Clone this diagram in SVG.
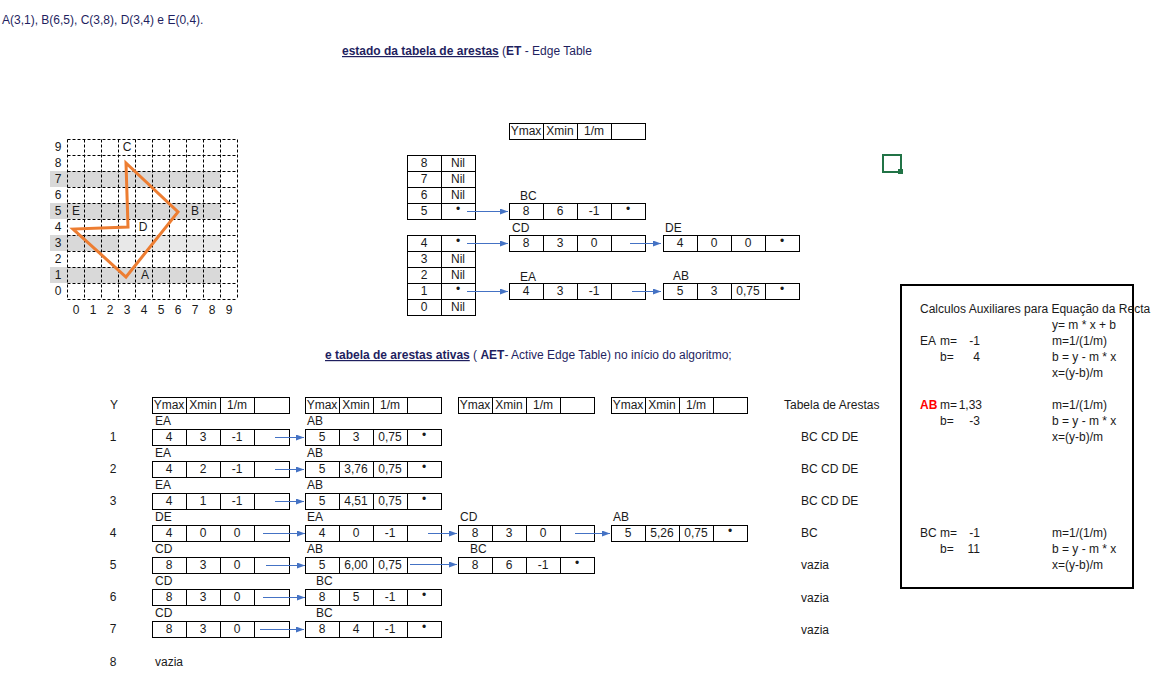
<svg xmlns="http://www.w3.org/2000/svg" width="1157" height="691" viewBox="0 0 1157 691">
<style>
.t{font-family:"Liberation Sans",Arial,sans-serif;font-size:12px;fill:#1a1a1a}
.c{text-anchor:middle}
.r{text-anchor:end}
.hdr{font-family:"Liberation Sans",Arial,sans-serif;font-size:12px;fill:#1f1f5f}
.b{font-weight:bold}
.u{text-decoration:underline}
.cell{fill:#fff;stroke:#000;stroke-width:1}
.div{stroke:#000;stroke-width:1;fill:none}
.conn{stroke:#4472C4;stroke-width:1;fill:none;marker-end:url(#ah)}
.grid{stroke:#000;stroke-width:1;stroke-dasharray:3,2;fill:none}
</style>
<defs>
<marker id="ah" markerWidth="8" markerHeight="6" refX="8" refY="3" orient="auto" markerUnits="userSpaceOnUse"><path d="M0,0 L8,3 L0,6 z" fill="#4472C4"/></marker>
</defs>
<rect width="1157" height="691" fill="#fff"/>

<!-- headings -->
<g id="headings">
<text class="hdr" x="2" y="24">A(3,1), B(6,5), C(3,8), D(3,4) e E(0,4).</text>
<text class="hdr" x="342" y="55"><tspan class="b u">estado da tabela de arestas</tspan> (<tspan class="b">ET</tspan> - Edge Table</text>
<text class="hdr" x="325" y="359"><tspan class="b u">e tabela de arestas ativas</tspan> ( <tspan class="b">AET</tspan>- Active Edge Table) no início do algoritmo;</text>
</g>

<!-- grid with polygon -->
<g id="grid">
<rect x="50" y="171" width="170" height="16" fill="#d9d9d9"/>
<rect x="50" y="203" width="170" height="16" fill="#d9d9d9"/>
<rect x="50" y="235" width="68" height="16" fill="#d9d9d9"/>
<rect x="118" y="235" width="102" height="16" fill="#e8e8e8"/>
<rect x="50" y="267" width="170" height="16" fill="#d9d9d9"/>
<path class="grid" d="M67.5,139.5V299.5M84.5,139.5V299.5M101.5,139.5V299.5M118.5,139.5V299.5M135.5,139.5V299.5M152.5,139.5V299.5M169.5,139.5V299.5M186.5,139.5V299.5M203.5,139.5V299.5M220.5,139.5V299.5M237.5,139.5V299.5M67.5,139.5H237.5M67.5,155.5H237.5M67.5,171.5H237.5M67.5,187.5H237.5M67.5,203.5H237.5M67.5,219.5H237.5M67.5,235.5H237.5M67.5,251.5H237.5M67.5,267.5H237.5M67.5,283.5H237.5M67.5,299.5H237.5"/>
<g class="t c">
<text x="58" y="151">9</text><text x="58" y="167">8</text><text x="58" y="183">7</text><text x="58" y="199">6</text><text x="58" y="215">5</text>
<text x="58" y="231">4</text><text x="58" y="247">3</text><text x="58" y="263">2</text><text x="58" y="279">1</text><text x="58" y="295">0</text>
<text x="76" y="314">0</text><text x="93" y="314">1</text><text x="110" y="314">2</text><text x="127" y="314">3</text><text x="144" y="314">4</text>
<text x="161" y="314">5</text><text x="178" y="314">6</text><text x="195" y="314">7</text><text x="212" y="314">8</text><text x="229" y="314">9</text>
</g>
<polygon points="126,277 178,212 126,163 128,227 73,229" fill="none" stroke="#ED7D31" stroke-width="3" stroke-linejoin="miter"/>
<g class="t c">
<text x="127" y="151">C</text><text x="195" y="215">B</text><text x="143" y="231">D</text><text x="76" y="215">E</text><text x="145" y="279">A</text>
</g>
</g>

<!-- ET header -->
<g id="et-header">
<rect class="cell" x="509.5" y="123.5" width="136" height="16"/>
<path class="div" d="M543.5,123.5v16M577.5,123.5v16M611.5,123.5v16"/>
<g class="t c"><text x="526" y="135">Ymax</text><text x="560" y="135">Xmin</text><text x="594" y="135">1/m</text></g>
</g>

<!-- ET index upper -->
<g id="et-index-upper">
<rect class="cell" x="407.5" y="155.5" width="68" height="64"/>
<path class="div" d="M441.5,155.5v64M407.5,171.5h68M407.5,187.5h68M407.5,203.5h68"/>
<g class="t c">
<text x="424" y="167">8</text><text x="458" y="167">Nil</text>
<text x="424" y="183">7</text><text x="458" y="183">Nil</text>
<text x="424" y="199">6</text><text x="458" y="199">Nil</text>
<text x="424" y="215">5</text><text x="458" y="213">•</text>
</g>
</g>

<!-- ET index lower -->
<g id="et-index-lower">
<rect class="cell" x="407.5" y="235.5" width="68" height="80"/>
<path class="div" d="M441.5,235.5v80M407.5,251.5h68M407.5,267.5h68M407.5,283.5h68M407.5,299.5h68"/>
<g class="t c">
<text x="424" y="247">4</text><text x="458" y="245">•</text>
<text x="424" y="263">3</text><text x="458" y="263">Nil</text>
<text x="424" y="279">2</text><text x="458" y="279">Nil</text>
<text x="424" y="295">1</text><text x="458" y="293">•</text>
<text x="424" y="311">0</text><text x="458" y="311">Nil</text>
</g>
</g>

<!-- ET records -->
<g id="et-bc">
<text class="t" x="520" y="200">BC</text>
<rect class="cell" x="509.5" y="203.5" width="136" height="16"/>
<path class="div" d="M543.5,203.5v16M577.5,203.5v16M611.5,203.5v16"/>
<g class="t c"><text x="526" y="215">8</text><text x="560" y="215">6</text><text x="594" y="215">-1</text><text x="628" y="213">•</text></g>
</g>
<g id="et-cd">
<text class="t" x="512" y="232">CD</text>
<rect class="cell" x="509.5" y="235.5" width="136" height="16"/>
<path class="div" d="M543.5,235.5v16M577.5,235.5v16M611.5,235.5v16"/>
<g class="t c"><text x="526" y="247">8</text><text x="560" y="247">3</text><text x="594" y="247">0</text></g>
</g>
<g id="et-ea">
<text class="t" x="520" y="281">EA</text>
<rect class="cell" x="509.5" y="283.5" width="136" height="16"/>
<path class="div" d="M543.5,283.5v16M577.5,283.5v16M611.5,283.5v16"/>
<g class="t c"><text x="526" y="295">4</text><text x="560" y="295">3</text><text x="594" y="295">-1</text></g>
</g>
<g id="et-de">
<text class="t" x="665" y="232">DE</text>
<rect class="cell" x="663.5" y="235.5" width="136" height="16"/>
<path class="div" d="M697.5,235.5v16M731.5,235.5v16M765.5,235.5v16"/>
<g class="t c"><text x="680" y="247">4</text><text x="714" y="247">0</text><text x="748" y="247">0</text><text x="782" y="245">•</text></g>
</g>
<g id="et-ab">
<text class="t" x="673" y="280">AB</text>
<rect class="cell" x="663.5" y="283.5" width="136" height="16"/>
<path class="div" d="M697.5,283.5v16M731.5,283.5v16M765.5,283.5v16"/>
<g class="t c"><text x="680" y="295">5</text><text x="714" y="295">3</text><text x="748" y="295">0,75</text><text x="782" y="293">•</text></g>
</g>

<!-- cell cursor -->
<g id="cursor">
<rect x="883" y="155" width="18" height="17" fill="none" stroke="#217346" stroke-width="2"/>
<rect x="898" y="169" width="5" height="5" fill="#217346"/>
</g>

<!-- AET headers -->
<g id="aet-header">
<text class="t c" x="114" y="409">Y</text>
<rect class="cell" x="152.5" y="397.5" width="137" height="16"/>
<path class="div" d="M186.5,397.5v16M220.5,397.5v16M254.5,397.5v16"/>
<rect class="cell" x="305.5" y="397.5" width="136" height="16"/>
<path class="div" d="M339.5,397.5v16M373.5,397.5v16M407.5,397.5v16"/>
<rect class="cell" x="458.5" y="397.5" width="136" height="16"/>
<path class="div" d="M492.5,397.5v16M526.5,397.5v16M560.5,397.5v16"/>
<rect class="cell" x="611.5" y="397.5" width="136" height="16"/>
<path class="div" d="M645.5,397.5v16M679.5,397.5v16M713.5,397.5v16"/>
<g class="t c">
<text x="169" y="409">Ymax</text><text x="203" y="409">Xmin</text><text x="237" y="409">1/m</text>
<text x="322" y="409">Ymax</text><text x="356" y="409">Xmin</text><text x="390" y="409">1/m</text>
<text x="475" y="409">Ymax</text><text x="509" y="409">Xmin</text><text x="543" y="409">1/m</text>
<text x="628" y="409">Ymax</text><text x="662" y="409">Xmin</text><text x="696" y="409">1/m</text>
</g>
<text class="t" x="784" y="409">Tabela de Arestas</text>
</g>

<!-- AET row 1 -->
<g id="aet-row1">
<text class="t c" x="113" y="441">1</text>
<text class="t" x="155" y="425">EA</text><text class="t" x="307" y="425">AB</text>
<rect class="cell" x="152.5" y="429.5" width="137" height="16"/>
<path class="div" d="M186.5,429.5v16M220.5,429.5v16M254.5,429.5v16"/>
<rect class="cell" x="305.5" y="429.5" width="136" height="16"/>
<path class="div" d="M339.5,429.5v16M373.5,429.5v16M407.5,429.5v16"/>
<g class="t c"><text x="169" y="441">4</text><text x="203" y="441">3</text><text x="237" y="441">-1</text>
<text x="322" y="441">5</text><text x="356" y="441">3</text><text x="390" y="441">0,75</text><text x="424" y="439">•</text></g>
<text class="t" x="801" y="441">BC CD DE</text>
</g>

<!-- AET row 2 -->
<g id="aet-row2">
<text class="t c" x="113" y="473">2</text>
<text class="t" x="155" y="457">EA</text><text class="t" x="307" y="457">AB</text>
<rect class="cell" x="152.5" y="461.5" width="137" height="16"/>
<path class="div" d="M186.5,461.5v16M220.5,461.5v16M254.5,461.5v16"/>
<rect class="cell" x="305.5" y="461.5" width="136" height="16"/>
<path class="div" d="M339.5,461.5v16M373.5,461.5v16M407.5,461.5v16"/>
<g class="t c"><text x="169" y="473">4</text><text x="203" y="473">2</text><text x="237" y="473">-1</text>
<text x="322" y="473">5</text><text x="356" y="473">3,76</text><text x="390" y="473">0,75</text><text x="424" y="471">•</text></g>
<text class="t" x="801" y="473">BC CD DE</text>
</g>

<!-- AET row 3 -->
<g id="aet-row3">
<text class="t c" x="113" y="505">3</text>
<text class="t" x="155" y="489">EA</text><text class="t" x="307" y="489">AB</text>
<rect class="cell" x="152.5" y="493.5" width="137" height="16"/>
<path class="div" d="M186.5,493.5v16M220.5,493.5v16M254.5,493.5v16"/>
<rect class="cell" x="305.5" y="493.5" width="136" height="16"/>
<path class="div" d="M339.5,493.5v16M373.5,493.5v16M407.5,493.5v16"/>
<g class="t c"><text x="169" y="505">4</text><text x="203" y="505">1</text><text x="237" y="505">-1</text>
<text x="322" y="505">5</text><text x="356" y="505">4,51</text><text x="390" y="505">0,75</text><text x="424" y="503">•</text></g>
<text class="t" x="801" y="505">BC CD DE</text>
</g>

<!-- AET row 4 -->
<g id="aet-row4">
<text class="t c" x="113" y="537">4</text>
<text class="t" x="155" y="521">DE</text><text class="t" x="307" y="521">EA</text><text class="t" x="460" y="521">CD</text><text class="t" x="613" y="521">AB</text>
<rect class="cell" x="152.5" y="525.5" width="137" height="16"/>
<path class="div" d="M186.5,525.5v16M220.5,525.5v16M254.5,525.5v16"/>
<rect class="cell" x="305.5" y="525.5" width="136" height="16"/>
<path class="div" d="M339.5,525.5v16M373.5,525.5v16M407.5,525.5v16"/>
<rect class="cell" x="458.5" y="525.5" width="136" height="16"/>
<path class="div" d="M492.5,525.5v16M526.5,525.5v16M560.5,525.5v16"/>
<rect class="cell" x="611.5" y="525.5" width="136" height="16"/>
<path class="div" d="M645.5,525.5v16M679.5,525.5v16M713.5,525.5v16"/>
<g class="t c"><text x="169" y="537">4</text><text x="203" y="537">0</text><text x="237" y="537">0</text>
<text x="322" y="537">4</text><text x="356" y="537">0</text><text x="390" y="537">-1</text>
<text x="475" y="537">8</text><text x="509" y="537">3</text><text x="543" y="537">0</text>
<text x="628" y="537">5</text><text x="662" y="537">5,26</text><text x="696" y="537">0,75</text><text x="730" y="535">•</text></g>
<text class="t" x="801" y="537">BC</text>
</g>

<!-- AET row 5 -->
<g id="aet-row5">
<text class="t c" x="113" y="569">5</text>
<text class="t" x="155" y="553">CD</text><text class="t" x="307" y="553">AB</text><text class="t" x="470" y="553">BC</text>
<rect class="cell" x="152.5" y="557.5" width="137" height="16"/>
<path class="div" d="M186.5,557.5v16M220.5,557.5v16M254.5,557.5v16"/>
<rect class="cell" x="305.5" y="557.5" width="136" height="16"/>
<path class="div" d="M339.5,557.5v16M373.5,557.5v16M407.5,557.5v16"/>
<rect class="cell" x="458.5" y="557.5" width="136" height="16"/>
<path class="div" d="M492.5,557.5v16M526.5,557.5v16M560.5,557.5v16"/>
<g class="t c"><text x="169" y="569">8</text><text x="203" y="569">3</text><text x="237" y="569">0</text>
<text x="322" y="569">5</text><text x="356" y="569">6,00</text><text x="390" y="569">0,75</text>
<text x="475" y="569">8</text><text x="509" y="569">6</text><text x="543" y="569">-1</text><text x="577" y="567">•</text></g>
<text class="t" x="801" y="569">vazia</text>
</g>

<!-- AET row 6 -->
<g id="aet-row6">
<text class="t c" x="113" y="601">6</text>
<text class="t" x="155" y="585">CD</text><text class="t" x="316" y="585">BC</text>
<rect class="cell" x="152.5" y="589.5" width="137" height="16"/>
<path class="div" d="M186.5,589.5v16M220.5,589.5v16M254.5,589.5v16"/>
<rect class="cell" x="305.5" y="589.5" width="136" height="16"/>
<path class="div" d="M339.5,589.5v16M373.5,589.5v16M407.5,589.5v16"/>
<g class="t c"><text x="169" y="601">8</text><text x="203" y="601">3</text><text x="237" y="601">0</text>
<text x="322" y="601">8</text><text x="356" y="601">5</text><text x="390" y="601">-1</text><text x="424" y="599">•</text></g>
<text class="t" x="801" y="602">vazia</text>
</g>

<!-- AET row 7 -->
<g id="aet-row7">
<text class="t c" x="113" y="633">7</text>
<text class="t" x="155" y="617">CD</text><text class="t" x="316" y="617">BC</text>
<rect class="cell" x="152.5" y="621.5" width="137" height="16"/>
<path class="div" d="M186.5,621.5v16M220.5,621.5v16M254.5,621.5v16"/>
<rect class="cell" x="305.5" y="621.5" width="136" height="16"/>
<path class="div" d="M339.5,621.5v16M373.5,621.5v16M407.5,621.5v16"/>
<g class="t c"><text x="169" y="633">8</text><text x="203" y="633">3</text><text x="237" y="633">0</text>
<text x="322" y="633">8</text><text x="356" y="633">4</text><text x="390" y="633">-1</text><text x="424" y="631">•</text></g>
<text class="t" x="801" y="634">vazia</text>
</g>

<!-- AET row 8 -->
<g id="aet-row8">
<text class="t c" x="113" y="666">8</text>
<text class="t" x="155" y="666">vazia</text>
</g>

<!-- auxiliary calculations box -->
<g id="aux-box">
<rect x="901" y="285" width="232" height="303" fill="none" stroke="#000" stroke-width="2"/>
<text class="t" x="920" y="313">Calculos Auxiliares para Equação da Recta</text>
<text class="t" x="1052" y="329">y= m * x + b</text>
<text class="t" x="920" y="345">EA</text><text class="t" x="940" y="345">m=</text><text class="t r" x="980" y="345">-1</text><text class="t" x="1052" y="345">m=1/(1/m)</text>
<text class="t" x="940" y="361">b=</text><text class="t r" x="980" y="361">4</text><text class="t" x="1052" y="361">b = y - m * x</text>
<text class="t" x="1052" y="377">x=(y-b)/m</text>
<text class="t b" x="920" y="409" style="fill:#ff0000">AB</text><text class="t" x="940" y="409">m=</text><text class="t r" x="982" y="409">1,33</text><text class="t" x="1052" y="409">m=1/(1/m)</text>
<text class="t" x="940" y="425">b=</text><text class="t r" x="980" y="425">-3</text><text class="t" x="1052" y="425">b = y - m * x</text>
<text class="t" x="1052" y="441">x=(y-b)/m</text>
<text class="t" x="920" y="537">BC</text><text class="t" x="940" y="537">m=</text><text class="t r" x="980" y="537">-1</text><text class="t" x="1052" y="537">m=1/(1/m)</text>
<text class="t" x="940" y="553">b=</text><text class="t r" x="980" y="553">11</text><text class="t" x="1052" y="553">b = y - m * x</text>
<text class="t" x="1052" y="569">x=(y-b)/m</text>
</g>

<!-- connectors -->
<g id="connectors">
<path class="conn" d="M467,211.5H508"/>
<path class="conn" d="M467,243.5H508"/>
<path class="conn" d="M467,291.5H508"/>
<path class="conn" d="M630,243.5H661"/>
<path class="conn" d="M632,291.5H661"/>
<path class="conn" d="M275,437.5H304"/>
<path class="conn" d="M275,469.5H304"/>
<path class="conn" d="M275,501.5H304"/>
<path class="conn" d="M263,533.5H305"/>
<path class="conn" d="M428,533.5H457"/>
<path class="conn" d="M575,533.5H610"/>
<path class="conn" d="M266,565.5H305"/>
<path class="conn" d="M410,564.5H457"/>
<path class="conn" d="M263,597.5H305"/>
<path class="conn" d="M260,629.5H304"/>
</g>
</svg>
